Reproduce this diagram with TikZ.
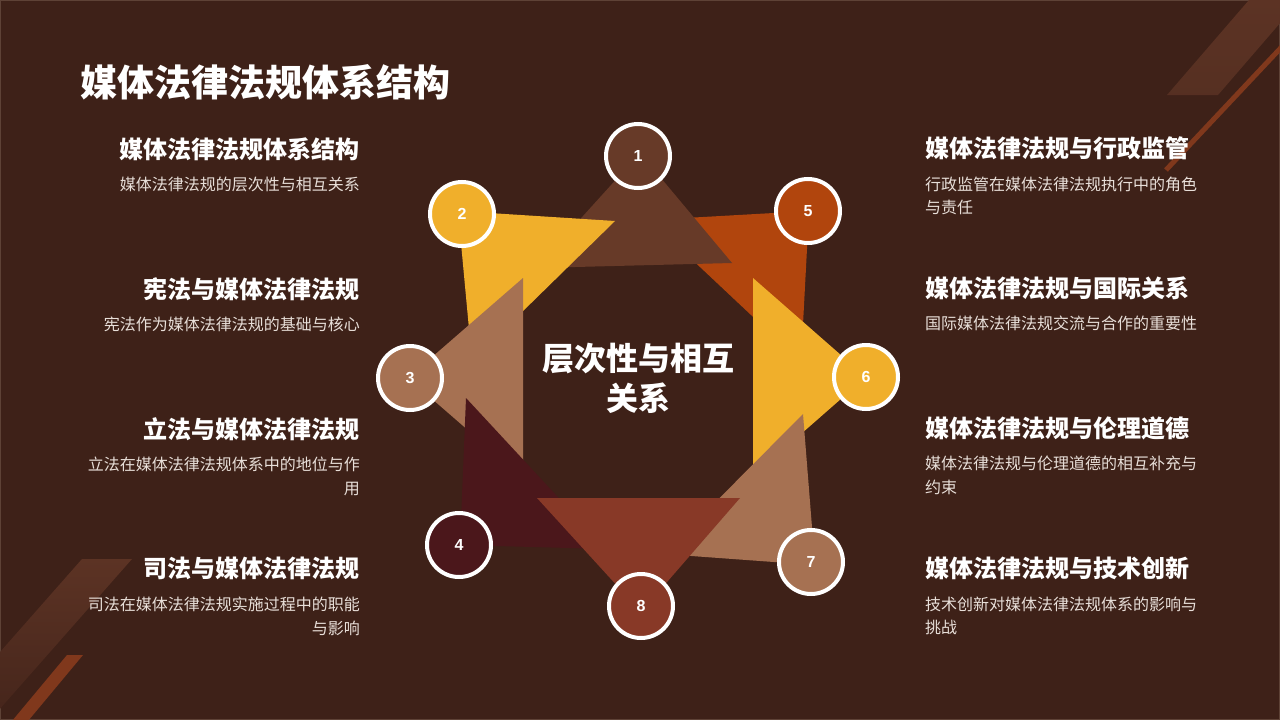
\documentclass[tikz,border=0pt]{standalone}
\usepackage{fontspec}
\newfontfamily\cjk{Noto Sans CJK SC}
\newfontfamily\numfont{Liberation Sans}
\definecolor{bgcol}{HTML}{3E2118}
\definecolor{framecol}{HTML}{5E4236}
\definecolor{cbrown}{HTML}{673A28}
\definecolor{cyellow}{HTML}{F0AF2B}
\definecolor{ctan}{HTML}{A67152}
\definecolor{cmaroon}{HTML}{4B171B}
\definecolor{corange}{HTML}{B1450D}
\definecolor{crust}{HTML}{883927}
\definecolor{desccol}{HTML}{E8DFD9}
\definecolor{decolight}{HTML}{5C3324}
\definecolor{decofade}{HTML}{45251B}
\definecolor{decoline}{HTML}{80381C}
\tikzset{
  numcirc/.style={circle, draw=white, line width=4pt, minimum size=64pt, inner sep=0pt,
    font=\numfont\bfseries\fontsize{16}{16}\selectfont, text=white},
  headtxt/.style={font=\cjk\bfseries\fontsize{24}{24}\selectfont, text=white, inner sep=0pt},
  desctxt/.style={font=\cjk\fontsize{16}{16}\selectfont, text=desccol, inner sep=0pt},
}
\begin{document}
\begin{tikzpicture}[x=1pt,y=-1pt]
\useasboundingbox (0,0) rectangle (1280,720);
\fill[bgcol] (0,0) rectangle (1280,720);
\draw[framecol, line width=2pt] (0,0) rectangle (1280,720);
% decorations
\shade[top color=decolight, bottom color=decolight!80!bgcol] (1167,95) -- (1218,95) -- (1300,0) -- (1249,0) -- cycle;
\draw[decoline, line width=5pt] (1166,170) -- (1292,36);
\shade[top color=decolight, bottom color=decofade] (82,559) -- (132,559) -- (-9,719) -- (-59,719) -- cycle;
\fill[decoline] (67,655) -- (83,655) -- (28,721) -- (12,721) -- cycle;
% title
\node[font=\cjk\bfseries\fontsize{37}{37}\selectfont, text=white, inner sep=0pt, anchor=base west] (title) at (80,96) {媒体法律法规体系结构};
% triangles (drawing order gives the overlaps)
\fill[corange] (809,211) -- (650,220) -- (801,362) -- cycle;
\fill[cyellow] (866,377) -- (753,278) -- (753,476) -- cycle;
\fill[ctan] (815,565) -- (803,414) -- (664,554) -- cycle;
\fill[cbrown] (640,153) -- (536,268) -- (732,263) -- cycle;
\fill[cyellow] (458,211) -- (615,221) -- (472,361) -- cycle;
\fill[ctan] (408,378) -- (523,278) -- (523,478) -- cycle;
\fill[cmaroon] (460,545) -- (466,398) -- (606,549) -- cycle;
\fill[crust] (641,612) -- (537,498) -- (740,498) -- cycle;
% circles
\node[numcirc, fill=cbrown] (c1) at (638,156) {1};
\node[numcirc, fill=cyellow] (c2) at (462,214) {2};
\node[numcirc, fill=ctan] (c3) at (410,378) {3};
\node[numcirc, fill=cmaroon] (c4) at (459,545) {4};
\node[numcirc, fill=corange] (c5) at (808,211) {5};
\node[numcirc, fill=cyellow] (c6) at (866,377) {6};
\node[numcirc, fill=ctan] (c7) at (811,562) {7};
\node[numcirc, fill=crust] (c8) at (641,606) {8};
% center text
\node[font=\cjk\bfseries\fontsize{32}{40}\selectfont, text=white, align=center, inner sep=0pt] (center) at (638,378) {层次性与相互\\关系};
% left texts
\node[headtxt, anchor=base east] (lh1) at (360,158) {媒体法律法规体系结构};
\node[desctxt, anchor=base east] (ld1) at (360,190) {媒体法律法规的层次性与相互关系};
\node[headtxt, anchor=base east] (lh2) at (360,298) {宪法与媒体法律法规};
\node[desctxt, anchor=base east] (ld2) at (360,330) {宪法作为媒体法律法规的基础与核心};
\node[headtxt, anchor=base east] (lh3) at (360,438) {立法与媒体法律法规};
\node[desctxt, anchor=base east] (ld3a) at (360,470) {立法在媒体法律法规体系中的地位与作};
\node[desctxt, anchor=base east] (ld3b) at (360,494) {用};
\node[headtxt, anchor=base east] (lh4) at (360,577) {司法与媒体法律法规};
\node[desctxt, anchor=base east] (ld4a) at (360,610) {司法在媒体法律法规实施过程中的职能};
\node[desctxt, anchor=base east] (ld4b) at (360,634) {与影响};
% right texts
\node[headtxt, anchor=base west] (rh1) at (925,157) {媒体法律法规与行政监管};
\node[desctxt, anchor=base west] (rd1a) at (925,190) {行政监管在媒体法律法规执行中的角色};
\node[desctxt, anchor=base west] (rd1b) at (925,213) {与责任};
\node[headtxt, anchor=base west] (rh2) at (925,297) {媒体法律法规与国际关系};
\node[desctxt, anchor=base west] (rd2) at (925,329) {国际媒体法律法规交流与合作的重要性};
\node[headtxt, anchor=base west] (rh3) at (925,437) {媒体法律法规与伦理道德};
\node[desctxt, anchor=base west] (rd3a) at (925,469) {媒体法律法规与伦理道德的相互补充与};
\node[desctxt, anchor=base west] (rd3b) at (925,493) {约束};
\node[headtxt, anchor=base west] (rh4) at (925,577) {媒体法律法规与技术创新};
\node[desctxt, anchor=base west] (rd4a) at (925,610) {技术创新对媒体法律法规体系的影响与};
\node[desctxt, anchor=base west] (rd4b) at (925,633) {挑战};
\end{tikzpicture}
\end{document}
